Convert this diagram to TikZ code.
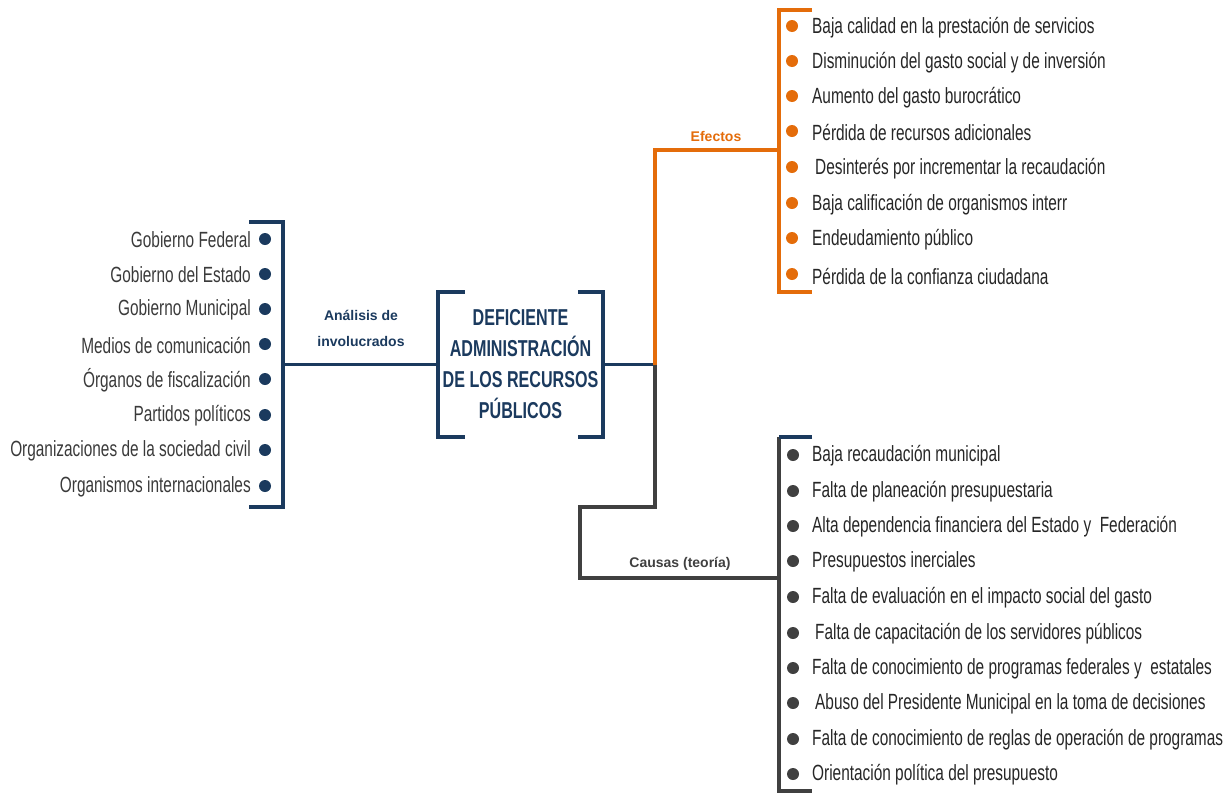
\documentclass[tikz,border=0pt]{standalone}
\usepackage{fontspec}
\setmainfont{Liberation Sans}
\newfontfamily\condfont[FakeStretch=0.70]{Liberation Sans}
\newfontfamily\condbold[FakeStretch=0.70]{Liberation Sans Bold}
\definecolor{navy}{HTML}{1B3A5E}
\definecolor{orng}{HTML}{E46C0A}
\definecolor{dgray}{HTML}{404040}
\definecolor{txtgray}{HTML}{3A3A3A}
\begin{document}
\begin{tikzpicture}[x=1pt,y=-1pt,
  navyline/.style={draw=navy,line width=3.5pt},
  orngline/.style={draw=orng,line width=3.5pt},
  grayline/.style={draw=dgray,line width=3.5pt},
  item/.style={font=\condfont\fontsize{22}{24}\selectfont,inner sep=0pt},
  leftitem/.style={item,anchor=east,text=txtgray},
  rightitem/.style={item,anchor=west,text=black!85},
  dot/.style={circle,inner sep=0pt,minimum size=12pt},
  navydot/.style={dot,fill=navy},
  orngdot/.style={dot,fill=orng},
  graydot/.style={dot,fill=dgray},
  lbl/.style={font=\bfseries\fontsize{14}{26}\selectfont,align=center,inner sep=0pt},
  center/.style={font=\condbold\fontsize{23}{31}\selectfont,text=navy,align=center,
     minimum width=165pt,minimum height=145pt,inner sep=0pt}
]
\useasboundingbox (0,0) rectangle (1230,793);

% left items
\foreach \t/\y [count=\i] in {Gobierno Federal/240,Gobierno del Estado/275,Gobierno Municipal/310,Medios de comunicación/345,Órganos de fiscalización/380,Partidos políticos/416,Organizaciones de la sociedad civil/451,Organismos internacionales/487}{
  \node[leftitem] (L\i) at (251,\y) {\t};
  \node[navydot] (LB\i) at (265,\y-1) {};
}
\coordinate (lbTL) at (249,222);
\coordinate (lbTR) at (283,222);
\coordinate (lbBR) at (283,507);
\coordinate (lbBL) at (249,507);
\coordinate (lbM) at (283,364.5);
\draw[navyline] (lbTL) -- (lbTR) -- (lbBR) -- (lbBL);

% center
\node[center] (box) at (520.5,364.5) {DEFICIENTE\\ADMINISTRACIÓN\\DE LOS RECURSOS\\PÚBLICOS};
\draw[navyline] ([xshift=27pt]box.north west) -- (box.north west) -- (box.south west) -- ([xshift=27pt]box.south west);
\draw[navyline] ([xshift=-25pt]box.north east) -- (box.north east) -- (box.south east) -- ([xshift=-25pt]box.south east);
\draw[navyline] (lbM) -- (box.west);
\node[lbl,text=navy] (anal) at (361,328) {Análisis de\\involucrados};

% junction
\coordinate (junc) at (655,364.5);
\draw[navyline] (box.east) -- (junc);

% efectos
\coordinate (efT) at (779,150);
\draw[orngline] (junc) |- (efT);
\node[lbl,text=orng] (ef) at (716,136) {Efectos};
\coordinate (ebTL) at (812,10);
\coordinate (ebTR) at (779,10);
\coordinate (ebBR) at (779,292);
\coordinate (ebBL) at (812,292);
\draw[orngline] (ebTL) -- (ebTR) -- (ebBR) -- (ebBL);
\foreach \t/\y/\dx [count=\i] in {Baja calidad en la prestación de servicios/28/0,Disminución del gasto social y de inversión/63/0,Aumento del gasto burocrático/98/0,Pérdida de recursos adicionales/133/0,Desinterés por incrementar la recaudación/169/3,Baja calificación de organismos interr/205/0,Endeudamiento público/240/0,Pérdida de la confianza ciudadana/276/0}{
  \node[orngdot] (EB\i) at (792,\y-2) {};
  \node[rightitem] (E\i) at (812+\dx,\y) {\t};
}

% causas
\coordinate (c1) at (655,507);
\coordinate (c2) at (580,507);
\coordinate (c3) at (580,578);
\coordinate (cT) at (779,578);
\draw[grayline] (junc) -- (c1) -- (c2) -- (c3) -- (cT);
\node[lbl,text=dgray] (ca) at (680,564) {Causas (teoría)};
\coordinate (cbTL) at (812,437);
\coordinate (cbTR) at (779,437);
\coordinate (cbBR) at (779,791);
\coordinate (cbBL) at (812,791);
\draw[grayline] (cbTR) -- (cbBR) -- (cbBL);
\draw[navyline] (cbTL) -- (cbTR);
\foreach \t/\y/\dx [count=\i] in {Baja recaudación municipal/456/0,Falta de planeación presupuestaria/492/0,Alta dependencia financiera del Estado y~~Federación/527/0,Presupuestos inerciales/562/0,Falta de evaluación en el impacto social del gasto/598/0,Falta de capacitación de los servidores públicos/634/3,Falta de conocimiento de programas federales y~~estatales/669/0,Abuso del Presidente Municipal en la toma de decisiones/704/3,Falta de conocimiento de reglas de operación de programas/740/0,Orientación política del presupuesto/775/0}{
  \node[graydot] (CB\i) at (793,\y-1) {};
  \node[rightitem] (C\i) at (812+\dx,\y) {\t};
}
\end{tikzpicture}
\end{document}
